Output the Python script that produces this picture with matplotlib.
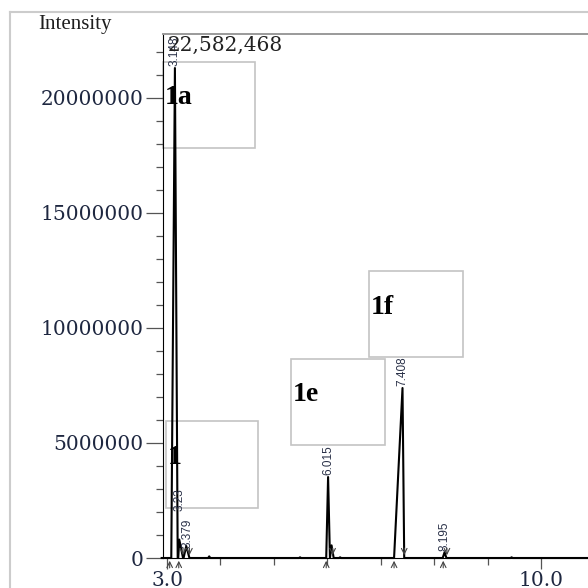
import numpy as np
import matplotlib.pyplot as plt
from matplotlib.patches import Rectangle
from matplotlib.lines import Line2D

# peaks: start, apex, end (min) and apex intensity
peak_start = [3.08, 3.21, 3.31, 3.77, 5.47, 5.98, 6.05, 6.22, 7.25, 8.16, 9.43]
peak_apex = [3.148, 3.23, 3.36, 3.79, 5.49, 6.015, 6.08, 6.24, 7.408, 8.195, 9.45]
peak_end = [3.20, 3.30, 3.42, 3.81, 5.51, 6.05, 6.12, 6.26, 7.44, 8.23, 9.47]
peak_height = [21300000, 800000, 520000, 70000, 30000, 3520000, 550000, 30000, 7390000, 250000, 30000]

label_rt = [3.148, 3.23, 3.379, 6.015, 7.408, 8.195]
label_txt = ['3.148', '3.23', '3.379', '6.015', '7.408', '8.195']
label_y = [21400000, 2050000, 450000, 3620000, 7480000, 300000]

start_marks = [3.05, 3.22, 5.98, 7.25, 8.17]
end_marks = [3.30, 3.42, 6.10, 7.44, 8.24]

# boxes: name, x0, x1, y0, y1, text position
box_names = ['1a', '1', '1e', '1f']
box_x = [(2.925, 4.647), (2.98, 4.70), (5.32, 7.08), (6.78, 8.54)]
box_y = [(17830000, 21570000), (2170000, 5960000), (4910000, 8650000), (8740000, 12480000)]
box_label_pos = [(2.96, 20000000), (3.01, 4350000), (5.36, 7090000), (6.82, 10870000)]

max_intensity = '22,582,468'

# build trace from the peak table
t = [2.9]
y = [0]
for s, a, e, h in zip(peak_start, peak_apex, peak_end, peak_height):
    t += [s, a, e]
    y += [0, h, 0]
t.append(11.0)
y.append(0)

fig = plt.figure(figsize=(5.88, 5.88), dpi=100)
ax = fig.add_axes([163 / 588, 30 / 588, 425 / 588, 524 / 588])

ax.plot(t, y, color='black', lw=1.5, clip_on=False)

ax.set_xlim(2.925, 10.88)
ax.set_ylim(0, 22780000)

ax.set_yticks([0, 5000000, 10000000, 15000000, 20000000])
ax.set_yticklabels(['0', '5000000', '10000000', '15000000', '20000000'])
ax.set_yticks(np.arange(0, 22000001, 1000000), minor=True)
ax.set_xticks([3.0, 10.0])
ax.set_xticklabels(['3.0', '10.0'])
ax.set_xticks(np.arange(4, 10), minor=True)

ax.tick_params(axis='both', which='major', direction='out', length=12, width=0.9,
               color='#555555', labelsize=14.5, labelcolor='#1e2740', pad=2)
ax.tick_params(axis='both', which='minor', direction='out', length=5, width=0.9,
               color='#555555')
ax.tick_params(axis='x', which='major', length=8, pad=1)
for lab in ax.get_xticklabels() + ax.get_yticklabels():
    lab.set_family('DejaVu Serif')

ax.spines['right'].set_visible(False)
ax.spines['top'].set_color('#9a9a9a')
ax.spines['top'].set_linewidth(1.4)
ax.spines['left'].set_color('black')
ax.spines['bottom'].set_color('black')

for rt, txt, ly in zip(label_rt, label_txt, label_y):
    ax.text(rt, ly, txt, rotation=90, ha='center', va='bottom', fontsize=8.5,
            family='Liberation Sans', color='#2a3148', clip_on=False)

for m in start_marks:
    ax.annotate('', xy=(m, 0), xytext=(m, -550000), annotation_clip=False,
                arrowprops=dict(arrowstyle='->', lw=0.8, color='#444444'))
for m in end_marks:
    ax.annotate('', xy=(m, 0), xytext=(m, 550000), annotation_clip=False,
                arrowprops=dict(arrowstyle='->', lw=0.8, color='#444444'))

for name, (x0, x1), (y0, y1), (lx, ly) in zip(box_names, box_x, box_y, box_label_pos):
    ax.add_patch(Rectangle((x0, y0), x1 - x0, y1 - y0, fill=False,
                           edgecolor='#c4c4c4', lw=1.2, clip_on=False))
    ax.text(lx, ly, name, ha='left', va='center', fontsize=20, fontweight='bold',
            family='Liberation Serif', color='black')

ax.text(0.012, 0.979, max_intensity, transform=ax.transAxes, ha='left', va='center',
        fontsize=14.5, family='DejaVu Serif', color='#222222')

fig.text(38 / 588, 1 - 25 / 588, 'Intensity', ha='left', va='center',
         fontsize=15, family='Liberation Serif', color='#1e1e1e')

# outer frame of the export
fig.add_artist(Line2D([10 / 588, 1.0], [1 - 12 / 588, 1 - 12 / 588],
                      color='#cccccc', lw=1.5))
fig.add_artist(Line2D([10 / 588, 10 / 588], [0, 1 - 12 / 588],
                      color='#cccccc', lw=1.5))

fig.savefig('out.png', dpi=100)
